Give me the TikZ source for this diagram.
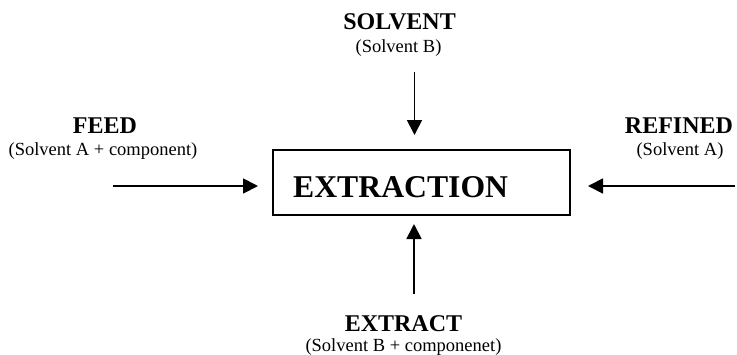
\documentclass[tikz,border=0pt]{standalone}
\usepackage{fontspec}
\setmainfont{Liberation Serif}
\usetikzlibrary{arrows.meta}
\begin{document}
\begin{tikzpicture}[x=1pt,y=1pt,
  head/.style={font=\fontsize{24}{26}\selectfont\bfseries, anchor=base, inner sep=0pt},
  sub/.style={font=\fontsize{18.5}{20}\selectfont, anchor=base, inner sep=0pt},
  flow/.style={line width=1.8pt, -{Triangle[length=15pt,width=15pt]}},
  boxstyle/.style={draw, line width=1.8pt, minimum width=297pt, minimum height=65pt, inner sep=0pt}]
\useasboundingbox (0,0) rectangle (737,-354);
% box
\node[boxstyle] (box) at (421.5,-182.5) {};
\node[font=\fontsize{31.7}{34}\selectfont\bfseries, anchor=base west, inner sep=0pt] (ext) at (293,-197) {EXTRACTION};
% labels
\node[head] (solv) at (399.5,-29) {SOLVENT};
\node[sub] (solvb) at (398.5,-52) {(Solvent B)};
\node[head] (feed) at (105,-133) {FEED};
\node[sub] (feedb) at (103,-155) {(Solvent A + component)};
\node[head] (ref) at (679,-133) {REFINED};
\node[sub] (refb) at (680,-155) {(Solvent A)};
\node[head] (extr) at (403.5,-331) {EXTRACT};
\node[sub] (extrb) at (403.5,-351) {(Solvent B + componenet)};
% arrow ends
\coordinate (sT) at (414.5,-72);
\coordinate (sH) at (414.5,-135);
\coordinate (fT) at (113,-186);
\coordinate (fH) at (258,-186);
\coordinate (rT) at (735,-186);
\coordinate (rH) at (588,-186);
\coordinate (eT) at (414,-294);
\coordinate (eH) at (414,-224);
\draw[flow] (sT) -- (sH);
\draw[flow] (fT) -- (fH);
\draw[flow] (rT) -- (rH);
\draw[flow] (eT) -- (eH);
\end{tikzpicture}
\end{document}
